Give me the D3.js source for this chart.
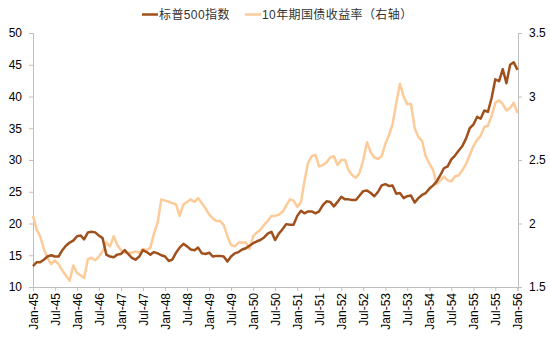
<!DOCTYPE html>
<html>
<head>
<meta charset="utf-8">
<script src="https://cdn.jsdelivr.net/npm/d3@7"></script>
<style>
  html, body { margin: 0; padding: 0; background: #fff; }
  svg { display: block; font-family: "Liberation Sans", Arial, "Noto Sans CJK SC", sans-serif; }
  .axis path, .axis line { stroke: #bfbfbf; }
  .axis text { fill: #000; font-size: 12px; }
</style>
</head>
<body>
<div id="chart"></div>
<script>
// 月度数据：1945年1月 - 1956年1月
const startYear = 1945;
const monthCount = 133;

// 标普500指数（左轴）
const spx = [
  13.3, 13.9, 13.9, 14.3, 14.8, 15.0, 14.8, 14.8, 15.8, 16.5, 17.0, 17.3,
  18.0, 18.1, 17.5, 18.6, 18.7, 18.6, 18.1, 17.7, 15.1, 14.8, 14.7, 15.1,
  15.2, 15.8, 15.2, 14.6, 14.3, 14.8, 15.8, 15.5, 15.1, 15.5, 15.3, 15.0,
  14.8, 14.1, 14.3, 15.4, 16.2, 16.8, 16.4, 15.9, 15.8, 16.2, 15.3, 15.2,
  15.4, 14.8, 14.9, 14.9, 14.8, 14.0, 14.8, 15.3, 15.5, 15.9, 16.1, 16.5,
  16.9, 17.2, 17.4, 17.8, 18.4, 18.7, 17.4, 18.4, 19.1, 19.9, 19.8, 19.8,
  21.2, 22.0, 21.6, 21.9, 21.9, 21.6, 21.9, 22.9, 23.5, 23.4, 22.7, 23.4,
  24.2, 23.8, 23.8, 23.7, 23.7, 24.4, 25.1, 25.2, 24.8, 24.3, 25.0, 26.0,
  26.2, 25.9, 26.0, 24.7, 24.8, 24.0, 24.3, 24.4, 23.3, 24.0, 24.5, 24.8,
  25.5, 26.0, 26.6, 27.6, 28.7, 29.0, 30.1, 30.7, 31.5, 32.2, 33.4, 35.0,
  35.6, 36.8, 36.5, 37.8, 37.6, 39.8, 42.7, 42.4, 44.3, 42.1, 45.0, 45.4,
  44.2
];

// 10年期国债收益率（右轴）
const yield10 = [
  2.06, 1.95, 1.90, 1.80, 1.73, 1.68, 1.71, 1.68, 1.63, 1.59, 1.55, 1.67,
  1.61, 1.59, 1.57, 1.72, 1.73, 1.71, 1.74, 1.78, 1.85, 1.82, 1.90, 1.83,
  1.79, 1.77, 1.77, 1.77, 1.78, 1.77, 1.80, 1.79, 1.81, 1.92, 2.01, 2.19,
  2.18, 2.17, 2.16, 2.15, 2.06, 2.15, 2.17, 2.19, 2.17, 2.20, 2.16, 2.12,
  2.07, 2.04, 2.02, 2.02, 1.99, 1.90, 1.83, 1.82, 1.85, 1.85, 1.85, 1.80,
  1.90, 1.93, 1.95, 1.99, 2.02, 2.06, 2.06, 2.07, 2.09, 2.14, 2.19, 2.18,
  2.13, 2.17, 2.33, 2.48, 2.53, 2.54, 2.45, 2.46, 2.48, 2.52, 2.53, 2.46,
  2.50, 2.50, 2.42, 2.38, 2.36, 2.40, 2.50, 2.64, 2.56, 2.52, 2.51, 2.53,
  2.63, 2.70, 2.78, 2.95, 3.10, 3.00, 2.94, 2.94, 2.75, 2.68, 2.65, 2.53,
  2.47, 2.42, 2.31, 2.34, 2.37, 2.34, 2.33, 2.37, 2.38, 2.42, 2.47, 2.54,
  2.61, 2.66, 2.69, 2.76, 2.77, 2.85, 2.95, 2.97, 2.94, 2.89, 2.91, 2.95,
  2.87
];

const leftTicks = [10, 15, 20, 25, 30, 35, 40, 45, 50];
const rightTicks = [1.5, 2, 2.5, 3, 3.5];
const seriesNames = ['标普500指数', '10年期国债收益率（右轴）'];
const colors = ['#A0501C', '#FCCB99'];

const width = 550, height = 337;
const margin = { top: 33, right: 32, bottom: 50, left: 33 };

const dates = d3.range(monthCount).map(i => new Date(startYear, i, 1));

const svg = d3.select('#chart').append('svg')
  .attr('width', width)
  .attr('height', height);

const x = d3.scaleTime()
  .domain([dates[0], dates[dates.length - 1]])
  .range([margin.left, width - margin.right - 0.5]);
const yL = d3.scaleLinear().domain([10, 50]).range([height - margin.bottom, margin.top]);
const yR = d3.scaleLinear().domain([1.5, 3.5]).range([height - margin.bottom, margin.top]);

// 每半年一个刻度
const xTicks = dates.filter((d, i) => i % 6 === 0);
const fmt = d3.timeFormat('%b-%y');

svg.append('g')
  .attr('class', 'axis')
  .attr('transform', `translate(0,${height - margin.bottom})`)
  .call(d3.axisBottom(x).tickValues(xTicks).tickFormat(fmt).tickSizeOuter(0).tickSize(4))
  .selectAll('text')
  .attr('transform', 'rotate(-90)')
  .attr('text-anchor', 'end')
  .attr('x', -6)
  .attr('y', 0)
  .attr('dy', '0.35em');

svg.append('g')
  .attr('class', 'axis')
  .attr('transform', `translate(${margin.left},0)`)
  .call(d3.axisLeft(yL).tickValues(leftTicks).tickSizeOuter(0).tickSize(4).tickPadding(7));

svg.append('g')
  .attr('class', 'axis')
  .attr('transform', `translate(${width - margin.right},0)`)
  .call(d3.axisRight(yR).tickValues(rightTicks).tickFormat(d3.format('')).tickSizeOuter(0).tickSize(4).tickPadding(7));

// 折线
const lineL = d3.line().x((d, i) => x(dates[i])).y(d => yL(d));
const lineR = d3.line().x((d, i) => x(dates[i])).y(d => yR(d));

svg.append('path')
  .datum(yield10)
  .attr('fill', 'none')
  .attr('stroke', colors[1])
  .attr('stroke-width', 2.5)
  .attr('stroke-linejoin', 'round')
  .attr('d', lineR);

svg.append('path')
  .datum(spx)
  .attr('fill', 'none')
  .attr('stroke', colors[0])
  .attr('stroke-width', 2.5)
  .attr('stroke-linejoin', 'round')
  .attr('d', lineL);

// 图例
const legendX = [142, 245];
seriesNames.forEach((name, i) => {
  const g = svg.append('g').attr('transform', `translate(${legendX[i]},14.5)`);
  g.append('line')
    .attr('x1', 0).attr('x2', 16)
    .attr('stroke', colors[i])
    .attr('stroke-width', 2.5);
  g.append('text')
    .attr('x', 17)
    .attr('dy', '0.35em')
    .style('font-size', '12px')
    .style('letter-spacing', '0.4px')
    .attr('fill', '#333')
    .text(name);
});
</script>
</body>
</html>
